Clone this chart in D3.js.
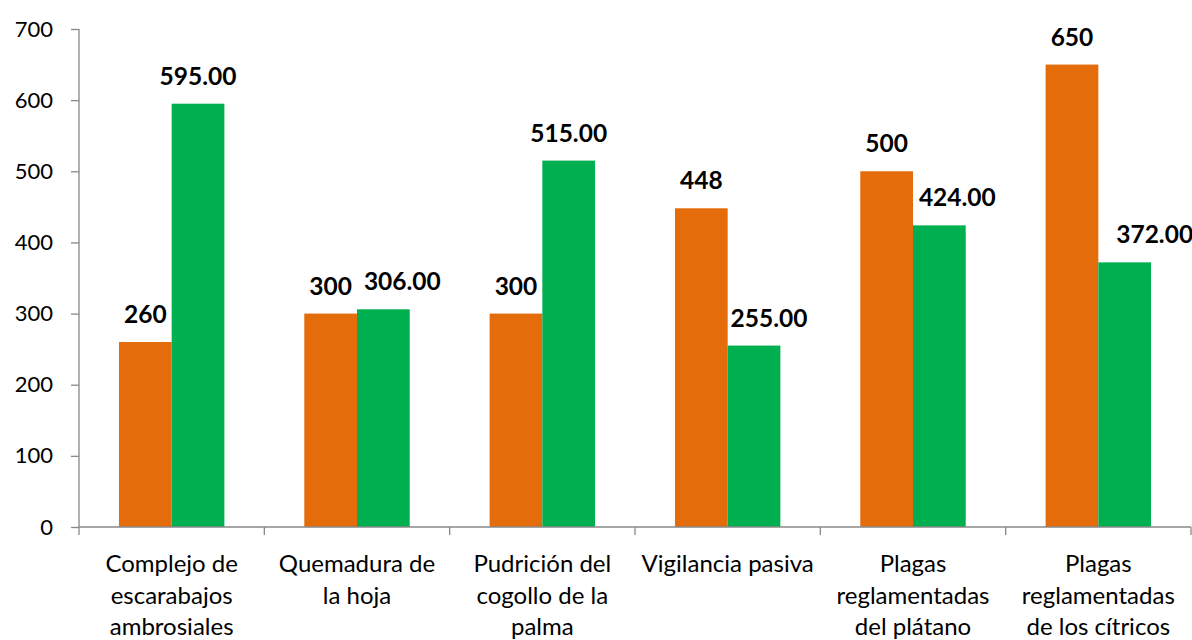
<!DOCTYPE html>
<html>
<head>
<meta charset="utf-8">
<script src="https://cdn.jsdelivr.net/npm/d3@7"></script>
<style>
  body { margin: 0; background: #fff; }
  text { font-family: Lato, "Open Sans", sans-serif; fill: #000; }
  .axis path, .axis line { stroke: #888; stroke-width: 1.3; }
  .axis text { font-size: 22px; }
  .axis .catlabel { font-size: 24px; }
  .label { font-size: 24.5px; font-weight: bold; }
</style>
</head>
<body>
<div id="chart"></div>
<script>
var categories = [
  "Complejo de\nescarabajos\nambrosiales",
  "Quemadura de\nla hoja",
  "Pudrición del\ncogollo de la\npalma",
  "Vigilancia pasiva",
  "Plagas\nreglamentadas\ndel plátano",
  "Plagas\nreglamentadas\nde los cítricos"
];
var seriesA = [260, 300, 300, 448, 500, 650];
var seriesB = [595, 306, 515, 255, 424, 372];
var yTicks = [0, 100, 200, 300, 400, 500, 600, 700];

// green labels that were nudged right in the original
var shiftB = [0, 19, 0, 15, 18, 30];

var width = 1192, height = 640,
    plotLeft = 79, plotRight = 1191, plotTop = 29, plotBottom = 527;

var svg = d3.select("#chart").append("svg")
    .attr("width", width)
    .attr("height", height);

var x = d3.scaleBand()
    .domain(categories)
    .range([plotLeft, plotRight])
    .padding(0);

var inner = d3.scaleBand()
    .domain(["a", "b"])
    .range([0, x.bandwidth()])
    .paddingInner(0)
    .paddingOuter(0.758);

var y = d3.scaleLinear()
    .domain([0, 700])
    .range([plotBottom, plotTop]);

var colors = { a: "#E46C0A", b: "#00B050" };

var data = categories.map(function(c, i) {
  return { cat: c, a: seriesA[i], b: seriesB[i], i: i };
});

// y axis
var yAxis = svg.append("g")
    .attr("class", "axis")
    .attr("transform", "translate(" + plotLeft + ",0)")
    .call(d3.axisLeft(y).tickValues(yTicks).tickSize(8).tickPadding(18).tickSizeOuter(0));
yAxis.select(".domain").attr("d", "M0," + y(700) + "V" + y(0));

// bars
var group = svg.selectAll(".cat")
    .data(data)
  .enter().append("g")
    .attr("class", "cat")
    .attr("transform", function(d) { return "translate(" + x(d.cat) + ",0)"; });

["a", "b"].forEach(function(k) {
  group.append("rect")
      .attr("x", inner(k))
      .attr("width", inner.bandwidth())
      .attr("y", function(d) { return y(d[k]); })
      .attr("height", function(d) { return y(0) - y(d[k]); })
      .attr("fill", colors[k]);
});

group.append("text")
    .attr("class", "label")
    .attr("text-anchor", "middle")
    .attr("x", inner("a") + inner.bandwidth() / 2)
    .attr("y", function(d) { return y(d.a) - 19; })
    .text(function(d) { return d3.format("d")(d.a); });

group.append("text")
    .attr("class", "label")
    .attr("text-anchor", "middle")
    .attr("x", function(d) { return inner("b") + inner.bandwidth() / 2 + shiftB[d.i]; })
    .attr("y", function(d) { return y(d.b) - 19; })
    .text(function(d) { return d3.format(".2f")(d.b); });

// x axis: ticks at band boundaries
var xAxis = svg.append("g")
    .attr("class", "axis")
    .attr("transform", "translate(0," + plotBottom + ")");
xAxis.append("line")
    .attr("x1", plotLeft).attr("x2", plotRight);
var bounds = categories.map(function(c) { return x(c); }).concat([plotRight]);
xAxis.selectAll(".xtick")
    .data(bounds)
  .enter().append("line")
    .attr("class", "xtick")
    .attr("x1", function(d) { return d; })
    .attr("x2", function(d) { return d; })
    .attr("y1", 0).attr("y2", 8);

var catLabel = xAxis.selectAll(".catlabel")
    .data(categories)
  .enter().append("text")
    .attr("class", "catlabel")
    .attr("text-anchor", "middle")
    .attr("x", function(d) { return x(d) + x.bandwidth() / 2; })
    .attr("y", 45);
catLabel.selectAll("tspan")
    .data(function(d) { return d.split("\n"); })
  .enter().append("tspan")
    .attr("x", function() { return this.parentNode.getAttribute("x"); })
    .attr("dy", function(d, i) { return i === 0 ? 0 : 31.5; })
    .text(function(d) { return d; });
</script>
</body>
</html>
